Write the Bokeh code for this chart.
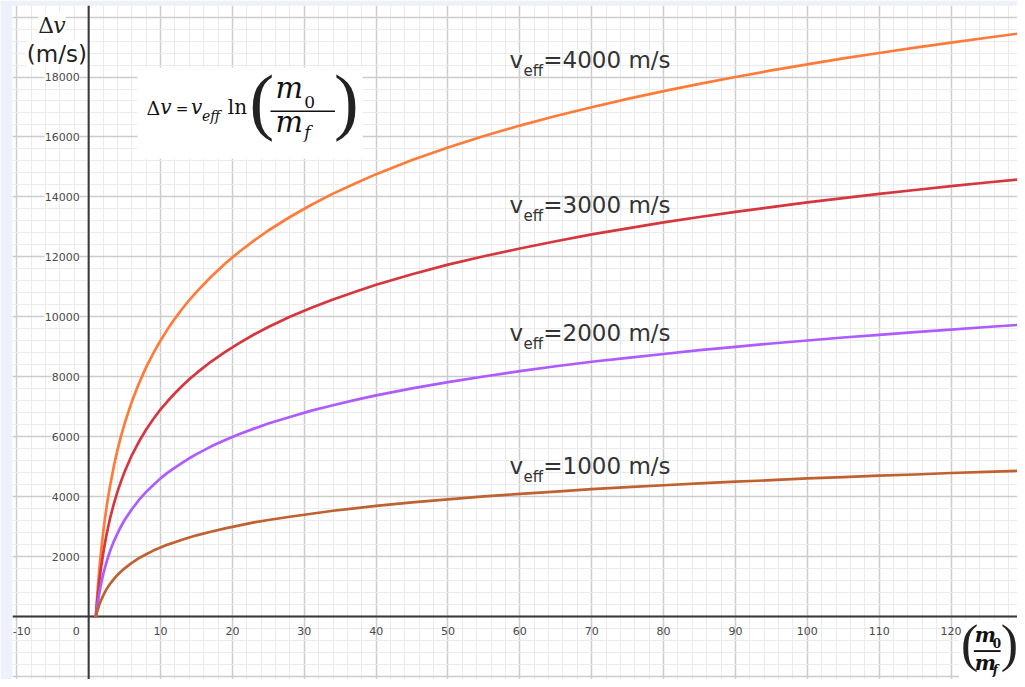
from bokeh.plotting import figure
from bokeh.models import Grid, FixedTicker, Span, BoxAnnotation, Label, ColumnDataSource, Range1d
from bokeh.core.properties import value
from bokeh.embed import file_html
from bokeh.resources import INLINE

# ---------------- data ----------------
MASS_RATIO = [1, 1.05, 1.1, 1.2, 1.3, 1.4, 1.5, 1.75, 2, 2.25,
              2.5, 2.75, 3, 3.5, 4, 4.5, 5, 6, 7, 8,
              9, 10, 11, 12, 13, 14, 15, 17, 19, 21,
              23, 25, 28, 31, 34, 37, 40, 45, 50, 55,
              60, 65, 70, 75, 80, 85, 90, 95, 100, 105,
              110, 115, 120, 125, 130]
DV_4000 = [0, 200, 380, 730, 1050, 1350, 1620, 2240, 2770, 3240,
           3670, 4050, 4390, 5010, 5550, 6020, 6440, 7170, 7780, 8320,
           8790, 9210, 9590, 9940, 10260, 10560, 10830, 11330, 11780, 12180,
           12540, 12880, 13330, 13740, 14110, 14440, 14760, 15230, 15650, 16030,
           16380, 16700, 16990, 17270, 17530, 17770, 18000, 18220, 18420, 18620,
           18800, 18980, 19150, 19310, 19470]
DV_3000 = [0, 150, 290, 550, 790, 1010, 1220, 1680, 2080, 2430,
           2750, 3030, 3300, 3760, 4160, 4510, 4830, 5380, 5840, 6240,
           6590, 6910, 7190, 7450, 7690, 7920, 8120, 8500, 8830, 9130,
           9410, 9660, 10000, 10300, 10580, 10830, 11070, 11420, 11740, 12020,
           12280, 12520, 12750, 12950, 13150, 13330, 13500, 13660, 13820, 13960,
           14100, 14230, 14360, 14480, 14600]
DV_2000 = [0, 100, 190, 360, 520, 670, 810, 1120, 1390, 1620,
           1830, 2020, 2200, 2510, 2770, 3010, 3220, 3580, 3890, 4160,
           4390, 4610, 4800, 4970, 5130, 5280, 5420, 5670, 5890, 6090,
           6270, 6440, 6660, 6870, 7050, 7220, 7380, 7610, 7820, 8010,
           8190, 8350, 8500, 8630, 8760, 8890, 9000, 9110, 9210, 9310,
           9400, 9490, 9570, 9660, 9740]
DV_1000 = [0, 50, 100, 180, 260, 340, 410, 560, 690, 810,
           920, 1010, 1100, 1250, 1390, 1500, 1610, 1790, 1950, 2080,
           2200, 2300, 2400, 2480, 2560, 2640, 2710, 2830, 2940, 3040,
           3140, 3220, 3330, 3430, 3530, 3610, 3690, 3810, 3910, 4010,
           4090, 4170, 4250, 4320, 4380, 4440, 4500, 4550, 4610, 4650,
           4700, 4740, 4790, 4830, 4870]
VEFF = [4000, 3000, 2000, 1000]

X_TICKS_NEG = [-10]
X_TICK_LABELS_NEG = ["-10"]
X_TICKS = [10, 20, 30, 40, 50, 60, 70, 80, 90, 100, 110, 120]
X_TICK_LABELS = ["10", "20", "30", "40", "50", "60", "70", "80", "90", "100", "110", "120"]
Y_TICKS = [2000, 4000, 6000, 8000, 10000, 12000, 14000, 16000, 18000]
Y_TICK_LABELS = ["2000", "4000", "6000", "8000", "10000", "12000", "14000", "16000", "18000"]
X_MAJOR = list(range(-20, 141, 10))
X_MINOR = list(range(-20, 141, 2))
Y_MAJOR = list(range(-4000, 24001, 2000))
Y_MINOR = list(range(-4000, 24001, 400))

# ---------------- layout (reference-pixel helpers) ----------------
XMIN, XMAX = -10.6, 129.25
YMIN, YMAX = -2100.0, 20386.0
R_L, R_R, R_T, R_B = 12.0, 1025.0, 5.0, 687.0
DY = 5  # baseline correction for labels


def px_x(px):
    return XMIN + (px - R_L) / (R_R - R_L) * (XMAX - XMIN)


def px_y(py):
    return YMAX - (py - R_T) / (R_B - R_T) * (YMAX - YMIN)


p = figure(width=1017, height=679, x_range=Range1d(XMIN, XMAX), y_range=Range1d(YMIN, YMAX),
           x_axis_type=None, y_axis_type=None, toolbar_location=None, output_backend="svg",
           min_border_left=12, min_border_right=0, min_border_top=5, min_border_bottom=0,
           background_fill_color="white", border_fill_color="#eef0fa", outline_line_color=None)

p.add_layout(Grid(dimension=0, ticker=FixedTicker(ticks=X_MAJOR, minor_ticks=X_MINOR),
                  grid_line_color="#cccccc", grid_line_width=1.5,
                  minor_grid_line_color="#ebebeb", minor_grid_line_width=1), "center")
p.add_layout(Grid(dimension=1, ticker=FixedTicker(ticks=Y_MAJOR, minor_ticks=Y_MINOR),
                  grid_line_color="#cccccc", grid_line_width=1.5,
                  minor_grid_line_color="#ebebeb", minor_grid_line_width=1), "center")

# white boxes behind formula and x-axis title
p.add_layout(BoxAnnotation(left=px_x(138), right=px_x(365), top=px_y(68), bottom=px_y(160),
                           fill_color="white", fill_alpha=1, line_color=None, level="underlay"))
p.add_layout(BoxAnnotation(left=px_x(966), right=px_x(1040), top=px_y(627), bottom=px_y(700),
                           fill_color="white", fill_alpha=1, line_color=None, level="underlay"))

# axes
p.add_layout(Span(location=0, dimension="height", line_color="#383838", line_width=2, level="underlay"))
p.add_layout(Span(location=0, dimension="width", line_color="#383838", line_width=2, level="underlay"))

# curves
COLORS = ["#ff7b39", "#d6373e", "#ad5cff", "#bf6130"]
for arr, col in zip([DV_4000, DV_3000, DV_2000, DV_1000], COLORS):
    p.line(MASS_RATIO, arr, line_color=col, line_width=2.7, line_join="round", line_cap="round")

# tick labels
TICK_KW = dict(text_font=value("DejaVu Sans"), text_font_size="11px", text_color="#4a4a4a")
xs = ColumnDataSource(dict(x=X_TICKS, y=[0] * len(X_TICKS), t=X_TICK_LABELS))
p.text(x="x", y="y", text="t", source=xs, text_align="center", text_baseline="top", y_offset=10, **TICK_KW)
xn = ColumnDataSource(dict(x=X_TICKS_NEG, y=[0] * len(X_TICKS_NEG), t=X_TICK_LABELS_NEG))
p.text(x="x", y="y", text="t", source=xn, text_align="center", text_baseline="top", y_offset=10,
       x_offset=5, **TICK_KW)
zs = ColumnDataSource(dict(x=[0], y=[0], t=["0"]))
p.text(x="x", y="y", text="t", source=zs, text_align="right", text_baseline="top", y_offset=10,
       x_offset=-9, **TICK_KW)
ys = ColumnDataSource(dict(x=[0] * len(Y_TICKS), y=Y_TICKS, t=Y_TICK_LABELS))
p.text(x="x", y="y", text="t", source=ys, text_align="right", text_baseline="middle", x_offset=-9,
       background_fill_color="white", **TICK_KW)


def lab(px, py, t, size, style="normal", font="DejaVu Serif", color="#111", align="left", bg=None):
    p.add_layout(Label(x=px_x(px), y=px_y(py + DY), text=t, text_font=font, text_font_style=style,
                       text_font_size="%dpx" % size, text_color=color, text_align=align,
                       background_fill_color=bg))


# y axis title
lab(38, 33, "Δ", 22, color="#222", bg="white")
lab(53, 33, "v", 22, "italic", color="#222", bg="white")
lab(87, 62, "(m/s)", 23, font="DejaVu Sans", color="#222", align="right", bg="white")

# curve labels
BASELINES = [68, 215, 345, 479]
for v, b in zip(VEFF, BASELINES):
    lab(513, b, "v", 23, font="DejaVu Sans", color="#333")
    lab(527, b + 7, "eff", 15, font="DejaVu Sans", color="#333")
    lab(547, b, "=%d m/s" % v, 23, font="DejaVu Sans", color="#333")

# formula
PF = "Liberation Serif"
lab(147, 115, "Δ", 19)
lab(161, 115, "v", 20, "italic")
lab(183, 114, "=", 15, align="center")
lab(192, 115, "v", 20, "italic")
lab(203, 120, "eff", 14, "italic")
lab(229, 115, "ln", 20)
lab(251, 138, "(", 74, font=PF, color="#222")
lab(277, 101, "m", 29, "italic")
lab(306, 104, "0", 17)
p.add_layout(BoxAnnotation(left=px_x(272), right=px_x(337), top=px_y(111.3), bottom=px_y(112.8),
                           fill_color="#111", fill_alpha=1, line_color=None))
lab(277, 135, "m", 29, "italic")
lab(306, 138, "f", 17, "italic")
lab(336, 138, ")", 74, font=PF, color="#222")

# x axis title (m0/mf)
lab(968, 674, "(", 52, font=PF, color="#222")
lab(982, 649, "m", 20, "bold italic")
lab(1000, 650, "0", 12, "bold")
p.add_layout(BoxAnnotation(left=px_x(981), right=px_x(1008), top=px_y(657.3), bottom=px_y(659.2),
                           fill_color="#111", fill_alpha=1, line_color=None))
lab(982, 677, "m", 20, "bold italic")
lab(1000, 679, "f", 12, "bold italic")
lab(1008, 674, ")", 52, font=PF, color="#222")

open("out.html", "w").write(file_html(p, INLINE))
